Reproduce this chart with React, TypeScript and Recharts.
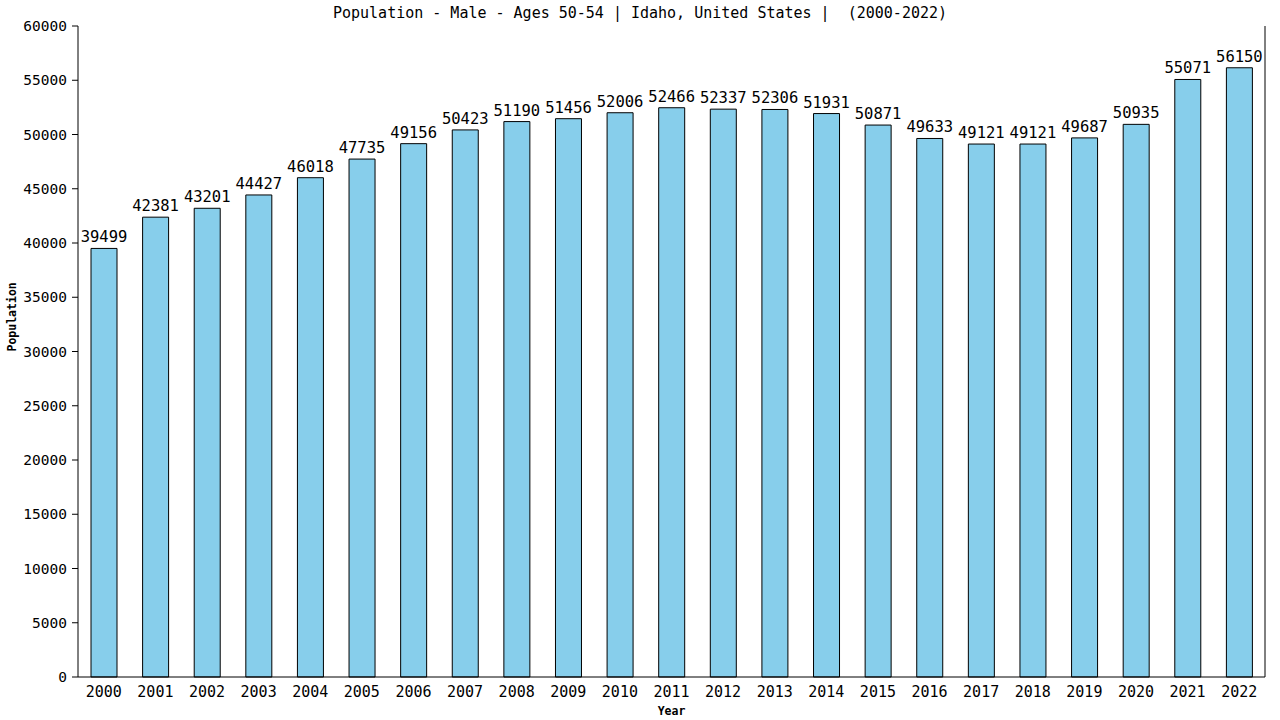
import { BarChart, Bar, XAxis, YAxis, LabelList } from 'recharts';

const years = ['2000', '2001', '2002', '2003', '2004', '2005', '2006', '2007', '2008', '2009', '2010', '2011', '2012', '2013', '2014', '2015', '2016', '2017', '2018', '2019', '2020', '2021', '2022'];
const population = [39499, 42381, 43201, 44427, 46018, 47735, 49156, 50423, 51190, 51456, 52006, 52466, 52337, 52306, 51931, 50871, 49633, 49121, 49121, 49687, 50935, 55071, 56150];
const yTicks = [0, 5000, 10000, 15000, 20000, 25000, 30000, 35000, 40000, 45000, 50000, 55000, 60000];

const data = years.map((year, i) => ({ year, population: population[i] }));

const mono = '"DejaVu Sans Mono", monospace';

function App() {
    return (
        <div style={{ position: 'absolute', left: 0, top: 0, width: 1280, height: 720, background: '#fff' }}>
            <div style={{ position: 'absolute', top: 4, width: 1280, textAlign: 'center', fontFamily: mono, fontSize: 15, lineHeight: '18px', color: '#000', whiteSpace: 'pre' }}>
                {'Population - Male - Ages 50-54 | Idaho, United States |  (2000-2022)'}
            </div>
            <BarChart width={1280} height={720} data={data} margin={{ top: 26, right: 0, bottom: 0, left: 0 }}>
                <XAxis
                    dataKey="year"
                    height={43}
                    tickLine={false}
                    stroke="#000"
                    tick={{ fill: '#000', fontFamily: mono, fontSize: 15 }}
                    tickMargin={3}
                    interval={0}
                    label={{ value: 'Year', position: 'insideBottom', offset: 5, fill: '#000', fontFamily: mono, fontSize: 11.5, fontWeight: 'bold' }}
                />
                <YAxis
                    width={78}
                    domain={[0, 60000]}
                    ticks={yTicks}
                    interval={0}
                    stroke="#000"
                    tickSize={6}
                    tickMargin={5}
                    tick={{ fill: '#000', fontFamily: mono, fontSize: 14.5 }}
                    label={{ value: 'Population', angle: -90, position: 'insideLeft', offset: 12, fill: '#000', fontFamily: mono, fontSize: 11.5, fontWeight: 'bold' }}
                />
                <YAxis yAxisId="right" orientation="right" width={15} tick={false} tickLine={false} stroke="#000" domain={[0, 60000]} />
                <Bar dataKey="population" fill="#87CEEB" stroke="#000" strokeWidth={1} barSize={26} isAnimationActive={false}>
                    <LabelList dataKey="population" position="top" offset={6} fill="#000" fontFamily={mono} fontSize={15.5} />
                </Bar>
            </BarChart>
        </div>
    );
}

export default App;
